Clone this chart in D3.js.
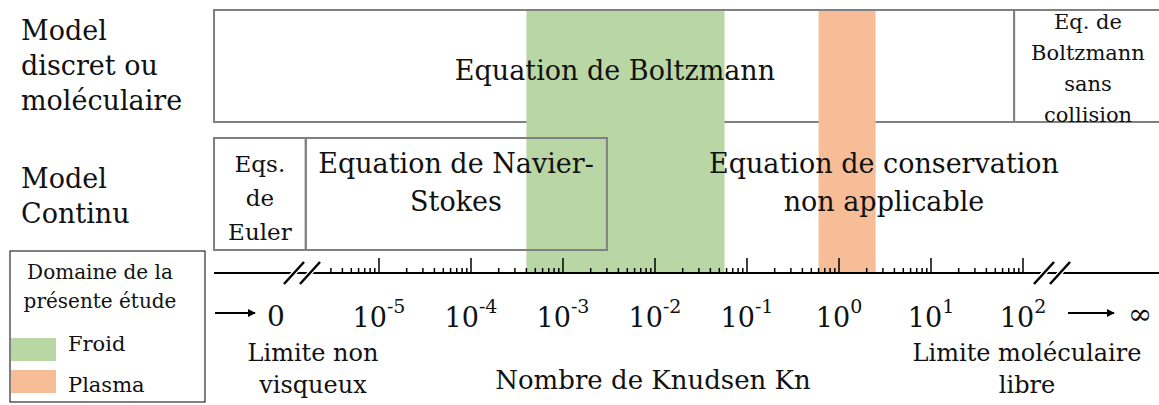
<!DOCTYPE html>
<html>
<head>
<meta charset="utf-8">
<script src="https://cdn.jsdelivr.net/npm/d3@7.9.0/dist/d3.min.js"></script>
<style>
  body { margin: 0; background: #fff; }
  svg { display: block; font-family: 'DejaVu Serif', serif; }
</style>
</head>
<body>
<svg id="chart" width="1159" height="405"></svg>
<script>
// Decades shown on the Knudsen axis (exponents of 10)
const decades = [-5, -4, -3, -2, -1, 0, 1, 2];

// Shaded study domains [Kn min, Kn max]
const domains = [
  { label: 'Froid', range: [4e-4, 0.057], color: '#b9d7a5' },
  { label: 'Plasma', range: [0.6, 2.5], color: '#f6bd97' }
];

// Regime boxes, Kn bounds (0 = left end, Infinity = right end)
const topBoxes = [
  { lines: ['Equation de Boltzmann'], range: [0, 80], size: 27 },
  { lines: ['Eq. de', 'Boltzmann', 'sans', 'collision'], range: [80, Infinity], size: 21 }
];
const contBoxes = [
  { lines: ['Eqs.', 'de', 'Euler'], range: [0, 1.6e-6], size: 23 },
  { lines: ['Equation de Navier-', 'Stokes'], range: [1.6e-6, 3e-3], size: 27 }
];

const svg = d3.select('#chart');

// log scale for Kn, 0 and infinity are pinned to the ends
const x = d3.scaleLog().domain([1e-5, 1e2]).range([379, 1023]);
const left = 214, right = 1163;
const kx = (v) => v === 0 ? left : (v === Infinity ? right : x(v));

const axisY = 273;
const topY = [10, 122];
const contY = [138, 250];

// top box (molecular models)
topBoxes.forEach((b) => {
  svg.append('rect')
    .attr('x', kx(b.range[0])).attr('y', topY[0])
    .attr('width', kx(b.range[1]) - kx(b.range[0])).attr('height', topY[1] - topY[0])
    .attr('fill', 'none').attr('stroke', '#808080').attr('stroke-width', 2);
});

// shaded domains
domains.forEach((d) => {
  svg.append('rect')
    .attr('x', x(d.range[0])).attr('y', topY[0] + 1)
    .attr('width', x(d.range[1]) - x(d.range[0])).attr('height', axisY - topY[0] - 1)
    .attr('fill', d.color);
});

// continuum boxes
contBoxes.forEach((b) => {
  svg.append('rect')
    .attr('x', kx(b.range[0])).attr('y', contY[0])
    .attr('width', kx(b.range[1]) - kx(b.range[0])).attr('height', contY[1] - contY[0])
    .attr('fill', 'none').attr('stroke', '#808080').attr('stroke-width', 2);
});

// multi-line centred text helper
function block(lines, cx, firstBase, lh, size) {
  const t = svg.append('text')
    .attr('text-anchor', 'middle').attr('font-size', size).attr('fill', '#111');
  lines.forEach((l, i) => {
    t.append('tspan').attr('x', cx).attr('y', firstBase + i * lh).text(l);
  });
}

block(topBoxes[0].lines, 615, 80, 32, topBoxes[0].size);
block(topBoxes[1].lines, 1088, 29, 31, topBoxes[1].size);
block(contBoxes[0].lines, (kx(0) + kx(1.6e-6)) / 2, 172, 34, contBoxes[0].size);
block(contBoxes[1].lines, 456, 173, 38, contBoxes[1].size);
block(['Equation de conservation', 'non applicable'], 884, 173, 38, 27);

// row labels
const rowText = svg.append('text').attr('font-size', 27).attr('fill', '#111');
[['Model', 40], ['discret ou', 75], ['moléculaire', 110], ['Model', 188], ['Continu', 223]]
  .forEach(([s, y]) => rowText.append('tspan').attr('x', 21).attr('y', y).text(s));

// axis line
svg.append('line')
  .attr('x1', left).attr('x2', 1159).attr('y1', axisY).attr('y2', axisY)
  .attr('stroke', '#000').attr('stroke-width', 2);

// ticks: 1..9 per decade, major at each power of ten
const tickVals = [];
for (let e = -6; e <= 1; e++) {
  for (let k = 1; k <= 9; k++) tickVals.push(k * Math.pow(10, e));
}
tickVals.push(100);
const shown = tickVals.filter((v) => v >= 3e-6);
svg.append('g').selectAll('line').data(shown).join('line')
  .attr('x1', (d) => x(d)).attr('x2', (d) => x(d))
  .attr('y1', axisY)
  .attr('y2', (d) => Math.abs(Math.log10(d) - Math.round(Math.log10(d))) < 1e-9 ? axisY - 15 : axisY - 5)
  .attr('stroke', '#000').attr('stroke-width', 1.5);

// axis breaks
function brk(cx) {
  [-8, 8].forEach((o) => {
    svg.append('line')
      .attr('x1', cx + o - 10).attr('y1', axisY + 11)
      .attr('x2', cx + o + 10).attr('y2', axisY - 11)
      .attr('stroke', '#fff').attr('stroke-width', 5);
  });
  [-8, 8].forEach((o) => {
    svg.append('line')
      .attr('x1', cx + o - 10).attr('y1', axisY + 11)
      .attr('x2', cx + o + 10).attr('y2', axisY - 11)
      .attr('stroke', '#000').attr('stroke-width', 2.5);
  });
}
brk(302);
brk(1052);

// tick labels 10^e
const labels = svg.append('g').selectAll('text').data(decades).join('text')
  .attr('x', (d) => x(Math.pow(10, d)))
  .attr('y', 327)
  .attr('text-anchor', 'middle')
  .attr('font-size', 27).attr('fill', '#111');
labels.append('tspan').text('10');
labels.append('tspan').attr('dy', -14).attr('font-size', 19).text((d) => d);

// ends: arrow to 0 and to infinity
svg.append('defs').append('marker')
  .attr('id', 'ah').attr('viewBox', '0 0 10 10').attr('refX', 9).attr('refY', 5)
  .attr('markerWidth', 4).attr('markerHeight', 4).attr('orient', 'auto')
  .append('path').attr('d', 'M0,0L10,5L0,10z').attr('fill', '#000');
svg.append('line').attr('x1', 215).attr('x2', 255).attr('y1', 313).attr('y2', 313)
  .attr('stroke', '#000').attr('stroke-width', 2).attr('marker-end', 'url(#ah)');
svg.append('text').attr('x', 276).attr('y', 326).attr('text-anchor', 'middle')
  .attr('font-size', 28).attr('fill', '#111').text('0');
svg.append('line').attr('x1', 1068).attr('x2', 1114).attr('y1', 313).attr('y2', 313)
  .attr('stroke', '#000').attr('stroke-width', 2).attr('marker-end', 'url(#ah)');
svg.append('text').attr('x', 1140).attr('y', 324).attr('text-anchor', 'middle')
  .attr('font-size', 29).attr('fill', '#111').text('∞');

// axis captions
block(['Limite non', 'visqueux'], 313, 361, 32, 24);
block(['Nombre de Knudsen Kn'], 653, 389, 0, 26);
block(['Limite moléculaire', 'libre'], 1027, 361, 32, 24);

// legend
svg.append('rect').attr('x', 10).attr('y', 251).attr('width', 195).attr('height', 151)
  .attr('fill', '#fff').attr('stroke', '#000').attr('stroke-width', 1);
block(['Domaine de la', 'présente étude'], 100, 279, 29, 20);
domains.forEach((d, i) => {
  svg.append('rect').attr('x', 11).attr('y', 338 + i * 32).attr('width', 45).attr('height', 23)
    .attr('fill', d.color);
  svg.append('text').attr('x', 68).attr('y', 351 + i * 41).attr('font-size', 21)
    .attr('fill', '#111').text(d.label);
});
</script>
</body>
</html>
